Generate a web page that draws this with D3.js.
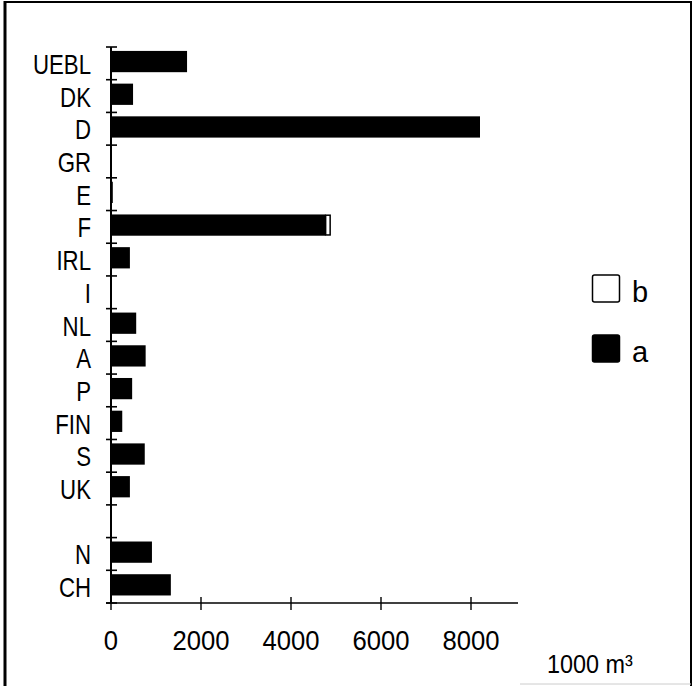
<!DOCTYPE html>
<html>
<head>
<meta charset="utf-8">
<script src="https://cdn.jsdelivr.net/npm/d3@7"></script>
<style>
  html, body { margin: 0; padding: 0; background: #fff; }
  svg { display: block; }
  text { font-family: "Liberation Sans", Arial, sans-serif; fill: #000; }
</style>
</head>
<body>
<svg id="chart" width="696" height="686"></svg>
<script>
// ---- data ----
const categories = ["UEBL", "DK", "D", "GR", "E", "F", "IRL", "I", "NL", "A", "P", "FIN", "S", "UK", "", "N", "CH"];
const seriesA = [1690, 490, 8200, 0, 40, 4770, 420, 0, 560, 770, 470, 250, 750, 420, 0, 910, 1330];
const seriesB = [0, 0, 0, 0, 0, 100, 0, 0, 0, 0, 0, 0, 0, 0, 0, 0, 0];
const xTicks = [0, 2000, 4000, 6000, 8000];
const seriesNames = ["a", "b"];
const unitLabel = "1000 m³";

// ---- layout ----
const svg = d3.select("#chart");
const W = 696, H = 686;
const plotTop = 47, plotBottom = 603, axisX = 111, axisRight = 518;

const keys = categories.map((c, i) => i);
const y = d3.scaleBand().domain(keys).range([plotTop, plotBottom]).padding(0);
const x = d3.scaleLinear().domain([0, 9000]).range([axisX, axisX + 405]);
const bw = y.bandwidth();

// frame
svg.append("line").attr("x1", 5).attr("x2", 5).attr("y1", 1).attr("y2", H)
  .attr("stroke", "#000").attr("stroke-width", 3);
svg.append("line").attr("x1", 4).attr("x2", 692).attr("y1", 2).attr("y2", 2)
  .attr("stroke", "#000").attr("stroke-width", 2);
svg.append("line").attr("x1", 691).attr("x2", 691).attr("y1", 1).attr("y2", H)
  .attr("stroke", "#000").attr("stroke-width", 2);
svg.append("line").attr("x1", 520).attr("x2", 691).attr("y1", 684).attr("y2", 684)
  .attr("stroke", "#ccc").attr("stroke-width", 1);

// bars
const data = keys.map(i => ({ k: i, a: seriesA[i], b: seriesB[i] }));
const gBars = svg.append("g");
gBars.selectAll("rect.a").data(data.filter(d => d.a > 0)).join("rect")
  .attr("class", "a")
  .attr("x", d => x(0) + 1)
  .attr("y", d => y(d.k) + bw * 0.12)
  .attr("width", d => Math.max(0, x(d.a) - x(0) - 1))
  .attr("height", bw * 0.65)
  .attr("fill", "#000");
gBars.selectAll("rect.b").data(data.filter(d => d.b > 0)).join("rect")
  .attr("class", "b")
  .attr("x", d => x(d.a))
  .attr("y", d => y(d.k) + bw * 0.12 + 0.75)
  .attr("width", d => x(d.a + d.b) - x(d.a))
  .attr("height", bw * 0.65 - 1.5)
  .attr("fill", "#fff")
  .attr("stroke", "#000")
  .attr("stroke-width", 1.5);

// y axis
const gAxis = svg.append("g").attr("stroke", "#000");
gAxis.append("line").attr("x1", axisX).attr("x2", axisX)
  .attr("y1", plotTop).attr("y2", plotBottom).attr("stroke-width", 2);
const boundaries = keys.map(k => y(k)).concat([plotBottom]);
gAxis.selectAll("line.yt").data(boundaries).join("line")
  .attr("class", "yt")
  .attr("x1", axisX - 5).attr("x2", axisX + 6)
  .attr("y1", d => d).attr("y2", d => d)
  .attr("stroke-width", 1.6);

// x axis
gAxis.append("line").attr("x1", axisX - 5).attr("x2", axisRight)
  .attr("y1", plotBottom).attr("y2", plotBottom).attr("stroke-width", 1.6);
gAxis.selectAll("line.xt").data(xTicks).join("line")
  .attr("class", "xt")
  .attr("x1", d => x(d)).attr("x2", d => x(d))
  .attr("y1", plotBottom - 6).attr("y2", plotBottom + 7)
  .attr("stroke-width", 1.4);

// category labels
svg.append("g").selectAll("text").data(data).join("text")
  .attr("transform", d => `translate(91,${y(d.k) + bw / 2 + 10.5}) scale(0.78,1)`)
  .attr("text-anchor", "end")
  .attr("font-size", 28.5)
  .text(d => categories[d.k]);

// x tick labels
svg.append("g").selectAll("text").data(xTicks).join("text")
  .attr("transform", d => `translate(${x(d)},650) scale(0.9,1)`)
  .attr("text-anchor", "middle")
  .attr("font-size", 28.5)
  .text(d => d);

// unit label
svg.append("text")
  .attr("transform", "translate(547,673) scale(0.9,1)")
  .attr("font-size", 26)
  .text(unitLabel);

// legend (b on top, a below)
const legend = [
  { name: seriesNames[1], fill: "#fff", y: 275 },
  { name: seriesNames[0], fill: "#000", y: 335 }
];
const gLeg = svg.append("g");
gLeg.selectAll("rect").data(legend).join("rect")
  .attr("x", 592.5).attr("y", d => d.y)
  .attr("width", 27).attr("height", 27)
  .attr("rx", 2)
  .attr("fill", d => d.fill)
  .attr("stroke", "#000").attr("stroke-width", 1.5);
gLeg.selectAll("text").data(legend).join("text")
  .attr("x", 632).attr("y", d => d.y + 27)
  .attr("font-size", 29)
  .text(d => d.name);
</script>
</body>
</html>
